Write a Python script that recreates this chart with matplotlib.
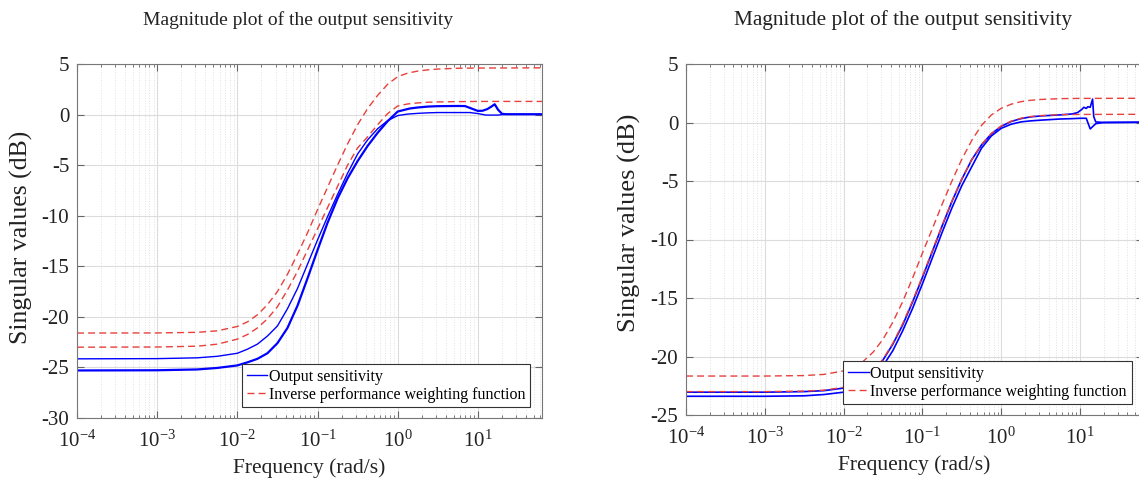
import matplotlib
matplotlib.use("Agg")
import matplotlib.pyplot as plt
import matplotlib.ticker as ticker
import numpy as np

plt.rcParams['font.family'] = ['Liberation Serif', 'DejaVu Serif']
plt.rcParams['mathtext.fontset'] = 'custom'
plt.rcParams['mathtext.rm'] = 'Liberation Serif'
plt.rcParams['axes.unicode_minus'] = False

# ---- data: log10(frequency in rad/s) and singular values in dB ----
grid = [-4, -3, -2.5, -2.25, -2, -1.875, -1.75, -1.625, -1.5, -1.375, -1.25, -1.125, -1,
        -0.875, -0.75, -0.625, -0.5, -0.375, -0.25, -0.125, 0, 0.125, 0.25, 0.375, 0.5,
        0.75, 1, 1.8]

# left plot
left_w1 = [-21.6, -21.59, -21.53, -21.38, -20.95, -20.5, -19.8, -18.8, -17.5, -15.8, -13.8,
           -11.7, -9.4, -7.2, -5.0, -2.9, -1.0, 0.6, 1.9, 3.0, 3.75, 4.1, 4.3, 4.42, 4.5,
           4.58, 4.6, 4.62]
left_w2 = [-23.0, -22.98, -22.9, -22.7, -22.2, -21.75, -21.1, -20.2, -19.0, -17.35, -15.5,
           -13.4, -11.3, -9.2, -7.1, -5.0, -3.3, -2.2, -1.0, 0.1, 0.85, 1.05, 1.15, 1.22,
           1.25, 1.28, 1.3, 1.3]
left_s1_f = [-4, -3, -2.5, -2.25, -2, -1.875, -1.75, -1.625, -1.5, -1.375, -1.25, -1.125, -1,
             -0.875, -0.75, -0.625, -0.5, -0.375, -0.25, -0.125, 0, 0.125, 0.25, 0.375, 0.5,
             0.75, 0.9, 1.0, 1.1, 1.25, 1.35, 1.8]
left_s1 = [-24.15, -24.13, -24.05, -23.9, -23.6, -23.2, -22.7, -21.9, -20.9, -19.2, -17.2,
           -14.8, -12.4, -10.1, -7.9, -5.8, -3.9, -2.5, -1.4, -0.6, -0.1, 0.05, 0.12, 0.17,
           0.2, 0.2, 0.2, 0.1, -0.05, -0.05, 0.03, 0.03]
left_s2_f = [-4, -3, -2.5, -2.25, -2, -1.875, -1.75, -1.625, -1.5, -1.375, -1.25, -1.125, -1,
             -0.875, -0.75, -0.625, -0.5, -0.375, -0.25, -0.125, 0, 0.15, 0.25, 0.375, 0.5,
             0.75, 0.84, 0.92, 1.0, 1.06, 1.12, 1.17, 1.21, 1.25, 1.3, 1.35, 1.8]
left_s2 = [-25.3, -25.28, -25.2, -25.05, -24.8, -24.5, -24.15, -23.6, -22.6, -21.1, -18.9,
           -16.2, -13.4, -10.7, -8.3, -6.3, -4.6, -3.1, -1.8, -0.65, 0.3, 0.6, 0.7, 0.79,
           0.83, 0.85, 0.84, 0.6, 0.36, 0.38, 0.55, 0.8, 1.02, 0.5, 0.08, 0.03, 0.03]

# right plot
right_w1 = [-21.67, -21.67, -21.63, -21.53, -21.23, -20.92, -20.41, -19.63, -18.53, -17.07,
            -15.31, -13.31, -11.17, -9.1, -7.0, -5.0, -3.15, -1.55, -0.25, 0.64, 1.21, 1.56,
            1.78, 1.9, 1.97, 2.04, 2.06, 2.07]
right_w2 = [-23.0, -23.0, -22.96, -22.88, -22.63, -22.36, -21.91, -21.23, -20.22, -18.87,
            -17.19, -15.25, -13.15, -10.97, -8.79, -6.71, -4.81, -3.18, -1.89, -0.94, -0.30,
            0.11, 0.36, 0.51, 0.59, 0.67, 0.69, 0.7]
right_s1_f = [-4, -3, -2.5, -2.25, -2, -1.875, -1.75, -1.625, -1.5, -1.375, -1.25, -1.125,
              -1, -0.875, -0.75, -0.625, -0.5, -0.375, -0.25, -0.125, 0, 0.125, 0.25, 0.375,
              0.5, 0.75, 0.9, 0.97, 1.02, 1.05, 1.08, 1.1, 1.13, 1.16, 1.175, 1.2, 1.3, 1.8]
right_s1 = [-23.05, -23.05, -23.0, -22.92, -22.7, -22.42, -21.97, -21.3, -20.3, -18.95, -17.3,
            -15.35, -13.25, -11.05, -8.85, -6.75, -4.85, -3.2, -1.92, -0.97, -0.33, 0.08,
            0.33, 0.48, 0.56, 0.65, 0.73, 0.85, 1.1, 1.3, 1.2, 1.35, 1.3, 2.0, 0.5, 0.05,
            0.0, 0.02]
right_s2_f = [-4, -3, -2.5, -2.25, -2, -1.875, -1.75, -1.625, -1.5, -1.375, -1.25, -1.125,
              -1, -0.875, -0.75, -0.625, -0.5, -0.375, -0.25, -0.125, 0, 0.125, 0.25, 0.375,
              0.5, 0.75, 0.9, 1.0, 1.08, 1.13, 1.2, 1.3, 1.8]
right_s2 = [-23.4, -23.4, -23.36, -23.25, -23.05, -22.8, -22.4, -21.75, -20.8, -19.5, -17.8,
            -15.9, -13.8, -11.6, -9.4, -7.3, -5.4, -3.8, -2.2, -1.15, -0.5, -0.15, 0.05, 0.14,
            0.2, 0.3, 0.33, 0.36, 0.36, -0.55, -0.1, 0.0, 0.02]

title = 'Magnitude plot of the output sensitivity'
blue = '#0000ff'
red = '#e8403c'


def style_axes(ax, ylim, yticks, title_size, ylabel_size):
    ax.set_xscale('log')
    ax.set_xlim(1e-4, 10 ** 1.8)
    ax.set_ylim(ylim)
    ax.set_yticks(yticks)
    ax.xaxis.set_major_locator(ticker.LogLocator(base=10, numticks=10))
    ax.xaxis.set_minor_locator(ticker.LogLocator(base=10, subs=np.arange(2, 10), numticks=10))
    ax.xaxis.set_minor_formatter(ticker.NullFormatter())
    ax.grid(which='major', color='#dcdcdc', lw=0.8, ls='-')
    ax.grid(which='minor', axis='x', color='#e2e2e2', lw=0.7, ls=':')
    ax.set_axisbelow(True)
    ax.tick_params(which='both', direction='in', top=True, right=True, colors='#666666',
                   labelcolor='#222222', labelsize=15)
    ax.tick_params(which='major', length=5, width=0.8)
    ax.tick_params(which='minor', length=2.5, width=0.6)
    ax.tick_params(axis='x', which='major', pad=9)
    ax.tick_params(axis='y', which='major', pad=5.5)
    for s in ax.spines.values():
        s.set_color('#777777')
        s.set_linewidth(0.8)
    ax.set_xlabel('Frequency (rad/s)', fontsize=15.5, color='#222222')
    ax.set_ylabel('Singular values (dB)', fontsize=ylabel_size, color='#222222')
    ax.set_title(title, fontsize=title_size, pad=28, color='#222222')
    ax.title.set_x(0.475)


def draw(ax, s1_f, s1, s2_f, s2, w1, w2, ylim, yticks, lw1, lw2, title_size, ylabel_size):
    f = 10 ** np.array(grid)
    ax.plot(10 ** np.array(s1_f), s1, color=blue, lw=lw1, label='Output sensitivity')
    ax.plot(10 ** np.array(s2_f), s2, color=blue, lw=lw2)
    ax.plot(f, w1, color=red, lw=1.0, ls=(0, (5, 3)), label='Inverse performance weighting function')
    ax.plot(f, w2, color=red, lw=1.0, ls=(0, (5, 3)))
    style_axes(ax, ylim, yticks, title_size, ylabel_size)
    leg = ax.legend(loc='lower right', bbox_to_anchor=(0.975, 0.03), borderaxespad=0,
                    fontsize=11.5, fancybox=False, framealpha=1, edgecolor='#333333',
                    handlelength=1.3, handletextpad=0.1, labelspacing=0.12,
                    borderpad=0.3)
    leg.get_frame().set_linewidth(0.8)
    for line in leg.get_lines():
        line.set_linewidth(1.0)


fig = plt.figure(figsize=(11.39, 4.82), dpi=100)
ax1 = fig.add_axes([77 / 1139, 64 / 482, 465 / 1139, 354 / 482])
ax2 = fig.add_axes([686 / 1139, 67 / 482, 457 / 1139, 351 / 482])

draw(ax1, left_s1_f, left_s1, left_s2_f, left_s2, left_w1, left_w2,
     (-30, 5), np.arange(-30, 6, 5), 1.0, 1.6, 14, 18.5)
draw(ax2, right_s1_f, right_s1, right_s2_f, right_s2, right_w1, right_w2,
     (-25, 5), np.arange(-25, 6, 5), 1.2, 1.2, 15.3, 19)

ax1.xaxis.set_label_coords(0.5, -0.115)
ax2.xaxis.set_label_coords(0.5, -0.115)
ax1.yaxis.set_label_coords(-0.094, 0.511)
ax2.yaxis.set_label_coords(-0.098, 0.548)

fig.savefig('out.png', dpi=100)
